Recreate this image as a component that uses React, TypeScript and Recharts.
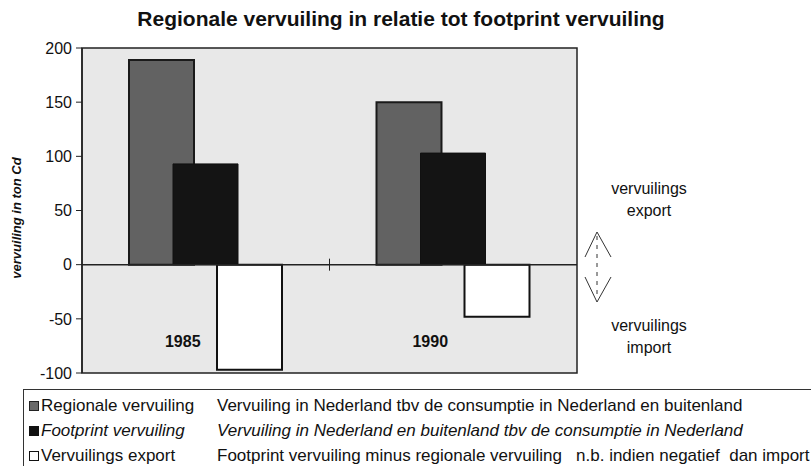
import React from "react";
import {
  BarChart,
  Bar,
  XAxis,
  YAxis,
  CartesianGrid,
  ReferenceArea,
  ReferenceLine,
  Legend,
} from "recharts";

const years = ["1985", "1990"];
const regionale = [189, 150];
const footprint = [93, 103];
const vervExport = [-97, -48];
const yTicks = [-100, -50, 0, 50, 100, 150, 200];

const seriesNames = ["Regionale vervuiling", "Footprint vervuiling", "Vervuilings export"];
const seriesDescriptions = [
  "Vervuiling in Nederland tbv de consumptie in Nederland en buitenland",
  "Vervuiling in Nederland en buitenland tbv de consumptie in Nederland",
  "Footprint vervuiling minus regionale vervuiling\u00a0\u00a0 n.b. indien negatief\u00a0 dan import",
];

const FONT = "'Liberation Sans', Arial, sans-serif";

const data = years.map((year, i) => ({
  year,
  regionale: regionale[i],
  footprint: footprint[i],
  export: vervExport[i],
}));

const legendIcons = [
  { fill: "#6a6a6a", stroke: "#222" },
  { fill: "#111", stroke: "#111" },
  { fill: "#fff", stroke: "#111" },
];

function YearTick(props: any) {
  const { x, y, payload } = props;
  return (
    <text
      x={x - 23}
      y={y - 34}
      textAnchor="middle"
      fontFamily={FONT}
      fontWeight="bold"
      fontSize={16}
      fill="#111"
    >
      {payload.value}
    </text>
  );
}

function ZeroMidTick(props: any) {
  const vb = props.viewBox || {};
  const mx = vb.x + vb.width / 2;
  return <line x1={mx} x2={mx} y1={vb.y - 6} y2={vb.y + 6} stroke="#222" strokeWidth={1} />;
}

function LegendBox() {
  return (
    <div
      style={{
        borderTop: "1.5px solid #333",
        borderLeft: "1.5px solid #333",
        height: 90,
        fontFamily: FONT,
        fontSize: 17,
        color: "#111",
        paddingTop: 3,
      }}
    >
      {seriesNames.map((name, i) => (
        <div key={name} style={{ display: "flex", alignItems: "center", height: 25 }}>
          <div
            style={{
              width: 8,
              height: 8,
              marginLeft: 5,
              marginRight: 2,
              background: legendIcons[i].fill,
              border: `1.5px solid ${legendIcons[i].stroke}`,
            }}
          />
          <span style={{ width: 176, fontStyle: i === 1 ? "italic" : "normal", whiteSpace: "nowrap" }}>
            {name}
          </span>
          <span style={{ fontStyle: i === 1 ? "italic" : "normal", whiteSpace: "nowrap" }}>
            {seriesDescriptions[i]}
          </span>
        </div>
      ))}
    </div>
  );
}

export default function App() {
  return (
    <div style={{ position: "absolute", left: 0, top: 0, width: 811, height: 466, background: "#fff", overflow: "hidden" }}>
      <div
        style={{
          position: "absolute",
          left: 0,
          top: 7,
          width: 802,
          textAlign: "center",
          fontFamily: FONT,
          fontWeight: "bold",
          fontSize: 21,
          color: "#111",
        }}
      >
        Regionale vervuiling in relatie tot footprint vervuiling
      </div>
      <BarChart
        width={811}
        height={466}
        data={data}
        margin={{ top: 48, right: 234, left: 8, bottom: 92 }}
        barSize={65}
        barGap={-21}
      >
        <CartesianGrid horizontal={false} vertical={false} fill="#e8e8e8" />
        <ReferenceArea y1={-100} y2={200} fill="none" stroke="#222" strokeWidth={1.5} />
        <XAxis dataKey="year" height={1} axisLine={false} tickLine={false} tick={<YearTick />} />
        <YAxis
          width={74}
          domain={[-100, 200]}
          ticks={yTicks}
          interval={0}
          tickSize={6}
          tickMargin={4}
          axisLine={{ stroke: "#222", strokeWidth: 1.5 }}
          tickLine={{ stroke: "#222" }}
          tick={{ fontFamily: FONT, fontSize: 16, fill: "#111" }}
          label={{
            content: () => (
              <text
                x={21}
                y={218}
                transform="rotate(-90 21 218)"
                textAnchor="middle"
                fontFamily={FONT}
                fontWeight="bold"
                fontStyle="italic"
                fontSize={13}
                fill="#111"
              >
                vervuiling in ton Cd
              </text>
            ),
          }}
        />
        <Bar dataKey="regionale" name={seriesNames[0]} fill="#626262" stroke="#1a1a1a" strokeWidth={2} isAnimationActive={false} />
        <Bar dataKey="footprint" name={seriesNames[1]} fill="#141414" stroke="#111" strokeWidth={1} isAnimationActive={false} />
        <Bar dataKey="export" name={seriesNames[2]} fill="#fff" stroke="#111" strokeWidth={2} isAnimationActive={false} />
        <ReferenceLine y={0} stroke="#222" strokeWidth={1.5} label={<ZeroMidTick />} />
        <Legend
          layout="horizontal"
          verticalAlign="middle"
          align="center"
          content={() => <LegendBox />}
          wrapperStyle={{ position: "absolute", left: 23, top: 389, width: 788 }}
        />
      </BarChart>
      <svg
        width={811}
        height={466}
        style={{ position: "absolute", left: 0, top: 0, pointerEvents: "none" }}
        fontFamily={FONT}
        fontSize={16}
        fill="#111"
      >
        <text x={649} y={194} textAnchor="middle">vervuilings</text>
        <text x={649} y={216} textAnchor="middle">export</text>
        <text x={649} y={331} textAnchor="middle">vervuilings</text>
        <text x={649} y={353} textAnchor="middle">import</text>
        <polyline points="585,257 597,232 611,257" fill="none" stroke="#333" strokeWidth={1} />
        <line x1={597} y1={236} x2={597} y2={298} stroke="#333" strokeWidth={1} strokeDasharray="4 5" />
        <polyline points="585,277 597,302 611,277" fill="none" stroke="#333" strokeWidth={1} />
      </svg>
    </div>
  );
}
